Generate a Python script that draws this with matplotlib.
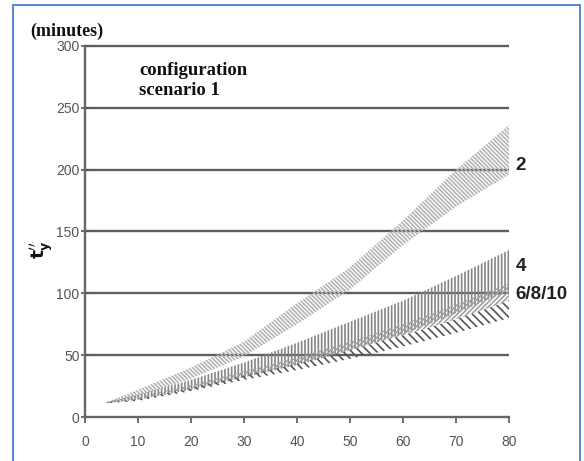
import matplotlib
matplotlib.use("Agg")
import matplotlib.pyplot as plt
from matplotlib.patches import Rectangle

# ---- data ----
x = [4, 10, 20, 30, 40, 50, 60, 70, 80]
band2_upper = [12, 22, 40, 61, 92, 121, 159, 200, 236]
band2_lower = [11, 17, 31, 49, 75, 103, 139, 170, 196]
band4_upper = [12, 18, 30, 44, 60, 77, 94, 114, 135]
band4_lower = [11, 14, 22, 32, 42, 54, 67, 84, 102]
band6_upper = [12, 16, 26, 37, 48, 61, 75, 91, 108]
band6_mid = [11.5, 14.5, 23.5, 33.5, 43, 54, 66, 79, 94]
band6_lower = [11, 13, 21, 30, 38, 47, 57, 68, 80]
xticks = [0, 10, 20, 30, 40, 50, 60, 70, 80]
yticks = [0, 50, 100, 150, 200, 250, 300]
series_labels = ["2", "4", "6/8/10"]
series_label_y = [203, 122, 99]

plt.rcParams['hatch.linewidth'] = 1.2

fig = plt.figure(figsize=(5.84, 4.61), dpi=100)
ax = fig.add_axes([85/584, 1 - 417/461, 424/584, 371/461])

grid_c = "#5f5f5f"
for yv in yticks[1:]:
    ax.plot([0, 80], [yv, yv], color=grid_c, lw=1.7, zorder=1,
            solid_capstyle='butt', clip_on=False)

ax.fill_between(x, band2_lower, band2_upper, facecolor='none', edgecolor='#b4b4b4',
                hatch='\\\\\\\\\\\\\\\\', linewidth=0, zorder=2)
ax.fill_between(x, band4_lower, band4_upper, facecolor='none', edgecolor='#858585',
                hatch='|||||', linewidth=0, zorder=3)
ax.fill_between(x, band6_mid, band6_upper, facecolor='none', edgecolor='#a0a0a0',
                hatch='///////', linewidth=0, zorder=4)
ax.fill_between(x, band6_lower, band6_mid, facecolor='none', edgecolor='#555555',
                hatch='\\\\\\\\', linewidth=0, zorder=4)

ax.set_xlim(0, 80)
ax.set_ylim(0, 300)
ax.set_xticks(xticks)
ax.set_yticks(yticks)
for s in ['top', 'right']:
    ax.spines[s].set_visible(False)
for s in ['left', 'bottom']:
    ax.spines[s].set_color('#666666')
    ax.spines[s].set_linewidth(1.7)
ax.tick_params(axis='y', direction='inout', length=6, width=1.2, color='#555555',
               labelsize=10, labelcolor='#555555', pad=1)
ax.tick_params(axis='x', direction='out', length=4, width=1.2, color='#555555',
               labelsize=10, labelcolor='#555555', pad=9)
for lab in ax.get_xticklabels() + ax.get_yticklabels():
    lab.set_family(['Liberation Sans Narrow', 'Liberation Sans', 'DejaVu Sans'])

# series labels at right
for lab, yv in zip(series_labels, series_label_y):
    ax.text(81.2, yv, lab, fontsize=13.5, fontweight='bold', color='#222222',
            family=['Liberation Sans', 'DejaVu Sans'], va='center', ha='left')

# annotation text
ax.text(10.2, 287, "configuration\nscenario 1", fontsize=13.5, fontweight='bold',
        family=['Liberation Serif', 'DejaVu Serif'], va='top', ha='left',
        linespacing=1.2, color='#111111')

fig.text(30/584, 1 - 31/461, "(minutes)", fontsize=13, fontweight='bold',
         family=['Liberation Serif', 'DejaVu Serif'], va='center', ha='left', color='#111111')

fig.text(42/584, 1 - 250/461, r"$\mathbf{t_y^{\prime\prime}}$", fontsize=13, rotation=90,
         va='center', ha='center', color='#111111')

# blue frame of the screenshot
fig.patches.append(Rectangle((13/584, -0.01), (580-13)/584, 1 - 5/461 + 0.01,
                             transform=fig.transFigure, fill=False,
                             edgecolor='#4a7bd0', linewidth=1.3))

fig.savefig("out.png", dpi=100)
